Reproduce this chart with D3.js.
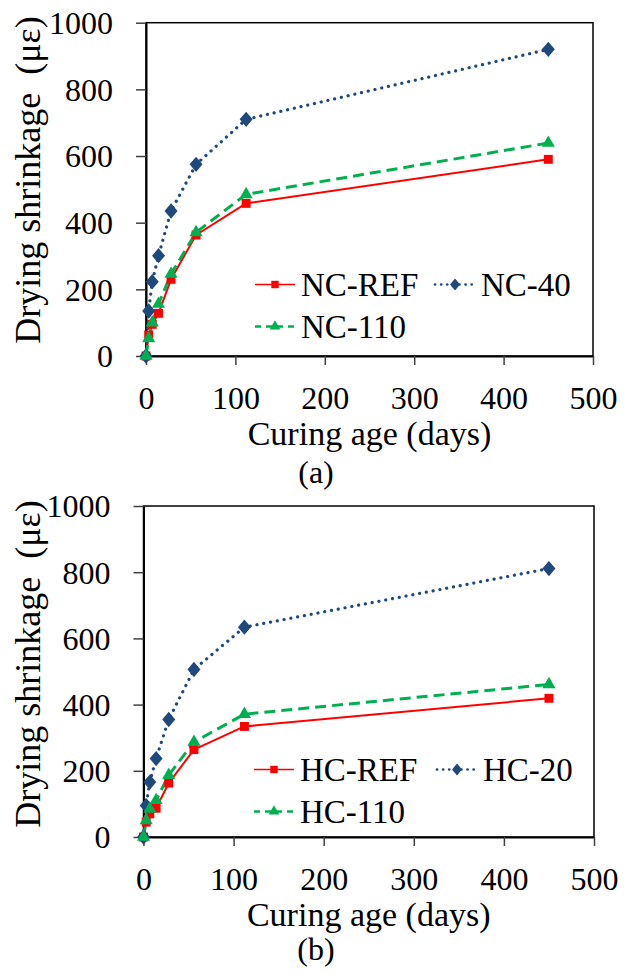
<!DOCTYPE html>
<html><head><meta charset="utf-8">
<script src="https://cdn.jsdelivr.net/npm/d3@7"></script>
<style>
html,body{margin:0;padding:0;background:#fff;}
svg text{font-family:"Liberation Serif","Times New Roman",Times,Tinos,"DejaVu Serif","Noto Serif",serif !important;fill:#000;}
</style></head>
<body><svg id="chart" width="625" height="977"></svg>
<script>
// ---- data ----
const days = [0, 3, 7, 14, 28, 56, 112, 450];
const xTicks = [0, 100, 200, 300, 400, 500];
const yTicks = [0, 200, 400, 600, 800, 1000];

const ncNames = ["NC-REF", "NC-40", "NC-110"];
const ncRef = [0, 63, 95, 128, 230, 363, 458, 590];
const nc40  = [0, 135, 223, 301, 435, 575, 710, 920];
const nc110 = [0, 53, 100, 156, 246, 371, 485, 639];

const hcNames = ["HC-REF", "HC-20", "HC-110"];
const hcRef = [0, 45, 70, 87, 163, 264, 334, 419];
const hc20  = [0, 95, 166, 237, 355, 506, 634, 811];
const hc110 = [0, 50, 85, 111, 187, 287, 371, 461];

const panelLabels = ["(a)", "(b)"];

// ---- styles ----
const FONT = '"Liberation Serif","Times New Roman",Times,Tinos,"DejaVu Serif","Noto Serif",serif';
const excelDiamond = {
  draw(ctx, size) {
    const hw = Math.sqrt(size) * 0.62, hh = hw * 1.18;
    ctx.moveTo(0, -hh); ctx.lineTo(hw, 0); ctx.lineTo(0, hh); ctx.lineTo(-hw, 0); ctx.closePath();
  }
};
const styles = [
  {color: "#FF0000", dash: null, width: 2, cap: "butt", symbol: d3.symbolSquare, size: 80, lsize: 55},
  {color: "#1F497D", dash: "0.1,6.8", width: 3.2, cap: "round", symbol: excelDiamond, size: 110, lsize: 65},
  {color: "#00B050", dash: "11,6", width: 3, cap: "butt", symbol: d3.symbolTriangle, size: 75, lsize: 50}
];

const svg = d3.select("#chart");

function panel(opt) {
  const x = d3.scaleLinear().domain([0, 500]).range([opt.x0, opt.x1]);
  const y = d3.scaleLinear().domain([0, 1000]).range([opt.y0, opt.y1]);
  const g = svg.append("g").style("font-family", FONT);

  g.append("rect").attr("x", opt.x0).attr("y", opt.y1)
    .attr("width", opt.x1 - opt.x0).attr("height", opt.y0 - opt.y1)
    .attr("fill", "none").attr("stroke", "#000").attr("stroke-width", 1.5);

  const xa = g.append("g").attr("transform", `translate(0,${opt.y0})`)
    .call(d3.axisBottom(x).tickValues(xTicks).tickSize(9).tickSizeOuter(0).tickFormat(d3.format("d")));
  const ya = g.append("g").attr("transform", `translate(${opt.x0},0)`)
    .call(d3.axisLeft(y).tickValues(yTicks).tickSize(10).tickSizeOuter(0).tickFormat(d3.format("d")));
  [xa, ya].forEach(a => {
    a.attr("font-family", null).style("font-family", FONT);
    a.select(".domain").attr("stroke", "#000").attr("stroke-width", 2);
    a.selectAll(".tick line").attr("stroke", "#404040").attr("stroke-width", 1.5);
    a.selectAll(".tick text").attr("font-size", 32).style("font-family", FONT);
  });
  xa.selectAll(".tick text").attr("dy", null).attr("y", 53);
  ya.selectAll(".tick text").attr("x", -33).attr("dy", "0.34em");

  g.append("text").attr("x", (opt.x0 + opt.x1) / 2).attr("y", opt.y0 + 89)
    .attr("text-anchor", "middle").attr("font-size", 34).text("Curing age (days)");
  g.append("text").attr("transform", `translate(40,${opt.ytc}) rotate(-90)`)
    .attr("text-anchor", "middle").attr("font-size", 36).style("white-space", "pre")
    .text("Drying shrinkage  (με)");
  g.append("text").attr("x", opt.labX).attr("y", opt.labY)
    .attr("text-anchor", "middle").attr("font-size", 32).text(opt.label);

  const line = d3.line().x((d, i) => x(days[i])).y(d => y(d));
  opt.series.forEach((s, k) => {
    const st = styles[k];
    g.append("path").datum(s).attr("d", line).attr("fill", "none")
      .attr("stroke", st.color).attr("stroke-width", st.width)
      .attr("stroke-dasharray", st.dash).attr("stroke-linecap", st.cap)
      .attr("stroke-linejoin", "round");
  });
  opt.series.forEach((s, k) => {
    const st = styles[k];
    g.selectAll(null).data(s).enter().append("path")
      .attr("transform", (d, i) => `translate(${x(days[i])},${y(d)})`)
      .attr("d", d3.symbol().type(st.symbol).size(st.size))
      .attr("fill", st.color);
  });

  const leg = [
    {k: 0, lx: opt.legX, ly: opt.legY},
    {k: 1, lx: opt.legX2, ly: opt.legY},
    {k: 2, lx: opt.legX, ly: opt.legY + 42}
  ];
  leg.forEach(L => {
    const st = styles[L.k];
    g.append("line").attr("x1", L.lx).attr("x2", L.lx + 40).attr("y1", L.ly).attr("y2", L.ly)
      .attr("stroke", st.color).attr("stroke-width", st.width - 0.5)
      .attr("stroke-dasharray", st.dash ? (L.k === 1 ? "0.1,6" : "6,5") : null)
      .attr("stroke-linecap", st.cap);
    g.append("path").attr("transform", `translate(${L.lx + 20},${L.ly})`)
      .attr("d", d3.symbol().type(st.symbol).size(st.lsize)).attr("fill", st.color);
    g.append("text").attr("x", L.lx + 46).attr("y", L.ly + 11).attr("font-size", 33)
      .text(opt.names[L.k]);
  });
}

panel({x0: 146, x1: 593, y0: 356, y1: 22.7, ytc: 180, labX: 316, labY: 483, label: panelLabels[0],
  series: [ncRef, nc40, nc110], names: ncNames, legX: 255, legX2: 435, legY: 284.5});
panel({x0: 143.5, x1: 594, y0: 837, y1: 506, ytc: 664, labX: 316, labY: 960, label: panelLabels[1],
  series: [hcRef, hc20, hc110], names: hcNames, legX: 254, legX2: 437, legY: 769.5});
</script></body></html>
